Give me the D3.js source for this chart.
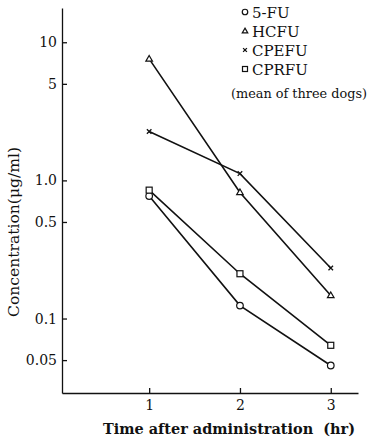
<!DOCTYPE html>
<html>
<head>
<meta charset="utf-8">
<script src="https://cdn.jsdelivr.net/npm/d3@7"></script>
<style>
  body { margin: 0; background: #fff; }
  svg { display: block; }
  text { font-family: "DejaVu Serif", "Liberation Serif", serif; fill: #111; }
</style>
</head>
<body>
<svg id="chart" width="370" height="443"></svg>
<script>
// data (ug/ml, mean of three dogs)
var times = [1, 2, 3];
var fu5 = [0.77, 0.124, 0.0457];
var hcfu = [7.58, 0.818, 0.147];
var cpefu = [2.26, 1.12, 0.232];
var cprfu = [0.85, 0.211, 0.064];

var yTicks = [10, 5, 1, 0.5, 0.1, 0.05];
var yTickLabels = ["10", "5", "1.0", "0.5", "0.1", "0.05"];
var xTicks = [1, 2, 3];

var legendNames = ["5-FU", "HCFU", "CPEFU", "CPRFU"];
var legendNote = "(mean of three dogs)";

var svg = d3.select("#chart");

var x = d3.scaleLinear().domain([0.04, 3.3]).range([62, 358]);
var y = d3.scaleLog().domain([0.0289, 17.7]).range([393, 8]);

/* axes */
var yAxis = d3.axisLeft(y)
    .tickValues(yTicks)
    .tickFormat(function(d, i) { return yTickLabels[i]; })
    .tickSizeInner(-5)
    .tickSizeOuter(0)
    .tickPadding(5);

var xAxis = d3.axisBottom(x)
    .tickValues(xTicks)
    .tickFormat(d3.format("d"))
    .tickSizeInner(-5)
    .tickSizeOuter(0)
    .tickPadding(7);

var gy = svg.append("g")
    .attr("transform", "translate(" + x.range()[0] + ",0)")
    .call(yAxis);

var gx = svg.append("g")
    .attr("transform", "translate(0," + y.range()[0] + ")")
    .call(xAxis);

[gx, gy].forEach(function(g) {
    g.selectAll("path, line").attr("stroke", "#111").attr("stroke-width", 1.3);
    g.selectAll("text")
        .attr("font-family", "'DejaVu Serif', serif")
        .attr("font-size", "14px")
        .attr("fill", "#111");
});

/* axis titles */
svg.append("text")
    .attr("transform", "translate(19,232) rotate(-90)")
    .attr("text-anchor", "middle")
    .attr("font-size", "14px")
    .attr("textLength", 170)
    .attr("lengthAdjust", "spacingAndGlyphs")
    .text("Concentration(\u03bcg/ml)");

svg.append("text")
    .attr("x", 229)
    .attr("y", 434)
    .attr("text-anchor", "middle")
    .attr("font-size", "14px")
    .attr("font-weight", "bold")
    .attr("textLength", 252)
    .attr("lengthAdjust", "spacingAndGlyphs")
    .text("Time after administration\u00a0\u00a0(hr)");

/* series */
var series = [
    { name: "5-FU", values: fu5, mark: "circle" },
    { name: "HCFU", values: hcfu, mark: "triangle" },
    { name: "CPEFU", values: cpefu, mark: "cross" },
    { name: "CPRFU", values: cprfu, mark: "square" }
];

var line = d3.line()
    .x(function(d) { return x(d[0]); })
    .y(function(d) { return y(d[1]); });

function drawMark(g, type, cx, cy, s) {
    if (type === "circle") {
        g.append("circle").attr("cx", cx).attr("cy", cy).attr("r", s * 0.55)
            .attr("fill", "#fff").attr("stroke", "#111").attr("stroke-width", 1.2);
    } else if (type === "triangle") {
        var h = s * 0.95;
        g.append("path")
            .attr("d", "M" + cx + "," + (cy - h * 0.6) + "L" + (cx + s * 0.55) + "," + (cy + h * 0.4) +
                "L" + (cx - s * 0.55) + "," + (cy + h * 0.4) + "Z")
            .attr("fill", "#fff").attr("stroke", "#111").attr("stroke-width", 1.2);
    } else if (type === "square") {
        g.append("rect").attr("x", cx - s * 0.5).attr("y", cy - s * 0.5)
            .attr("width", s).attr("height", s)
            .attr("fill", "#fff").attr("stroke", "#111").attr("stroke-width", 1.2);
    } else {
        var r = s * 0.38;
        g.append("path")
            .attr("d", "M" + (cx - r) + "," + (cy - r) + "L" + (cx + r) + "," + (cy + r) +
                "M" + (cx + r) + "," + (cy - r) + "L" + (cx - r) + "," + (cy + r))
            .attr("stroke", "#111").attr("stroke-width", 1.3);
    }
}

var plot = svg.append("g");
series.forEach(function(s) {
    var pts = times.map(function(t, i) { return [t, s.values[i]]; });
    plot.append("path")
        .datum(pts)
        .attr("fill", "none")
        .attr("stroke", "#111")
        .attr("stroke-width", 1.6)
        .attr("d", line);
});
series.forEach(function(s) {
    times.forEach(function(t, i) {
        drawMark(plot, s.mark, x(t), y(s.values[i]), 6);
    });
});

/* legend */
var legend = svg.append("g");
var legendY = [17, 36, 55, 74];
series.forEach(function(s, i) {
    drawMark(legend, s.mark, 245, legendY[i] - 5, 5);
    legend.append("text")
        .attr("x", 252)
        .attr("y", legendY[i] + 1)
        .attr("font-size", "15px")
        .text(legendNames[i]);
});
legend.append("text")
    .attr("x", 299)
    .attr("y", 98)
    .attr("text-anchor", "middle")
    .attr("font-size", "13px")
    .attr("textLength", 136)
    .attr("lengthAdjust", "spacingAndGlyphs")
    .text(legendNote);
</script>
</body>
</html>
